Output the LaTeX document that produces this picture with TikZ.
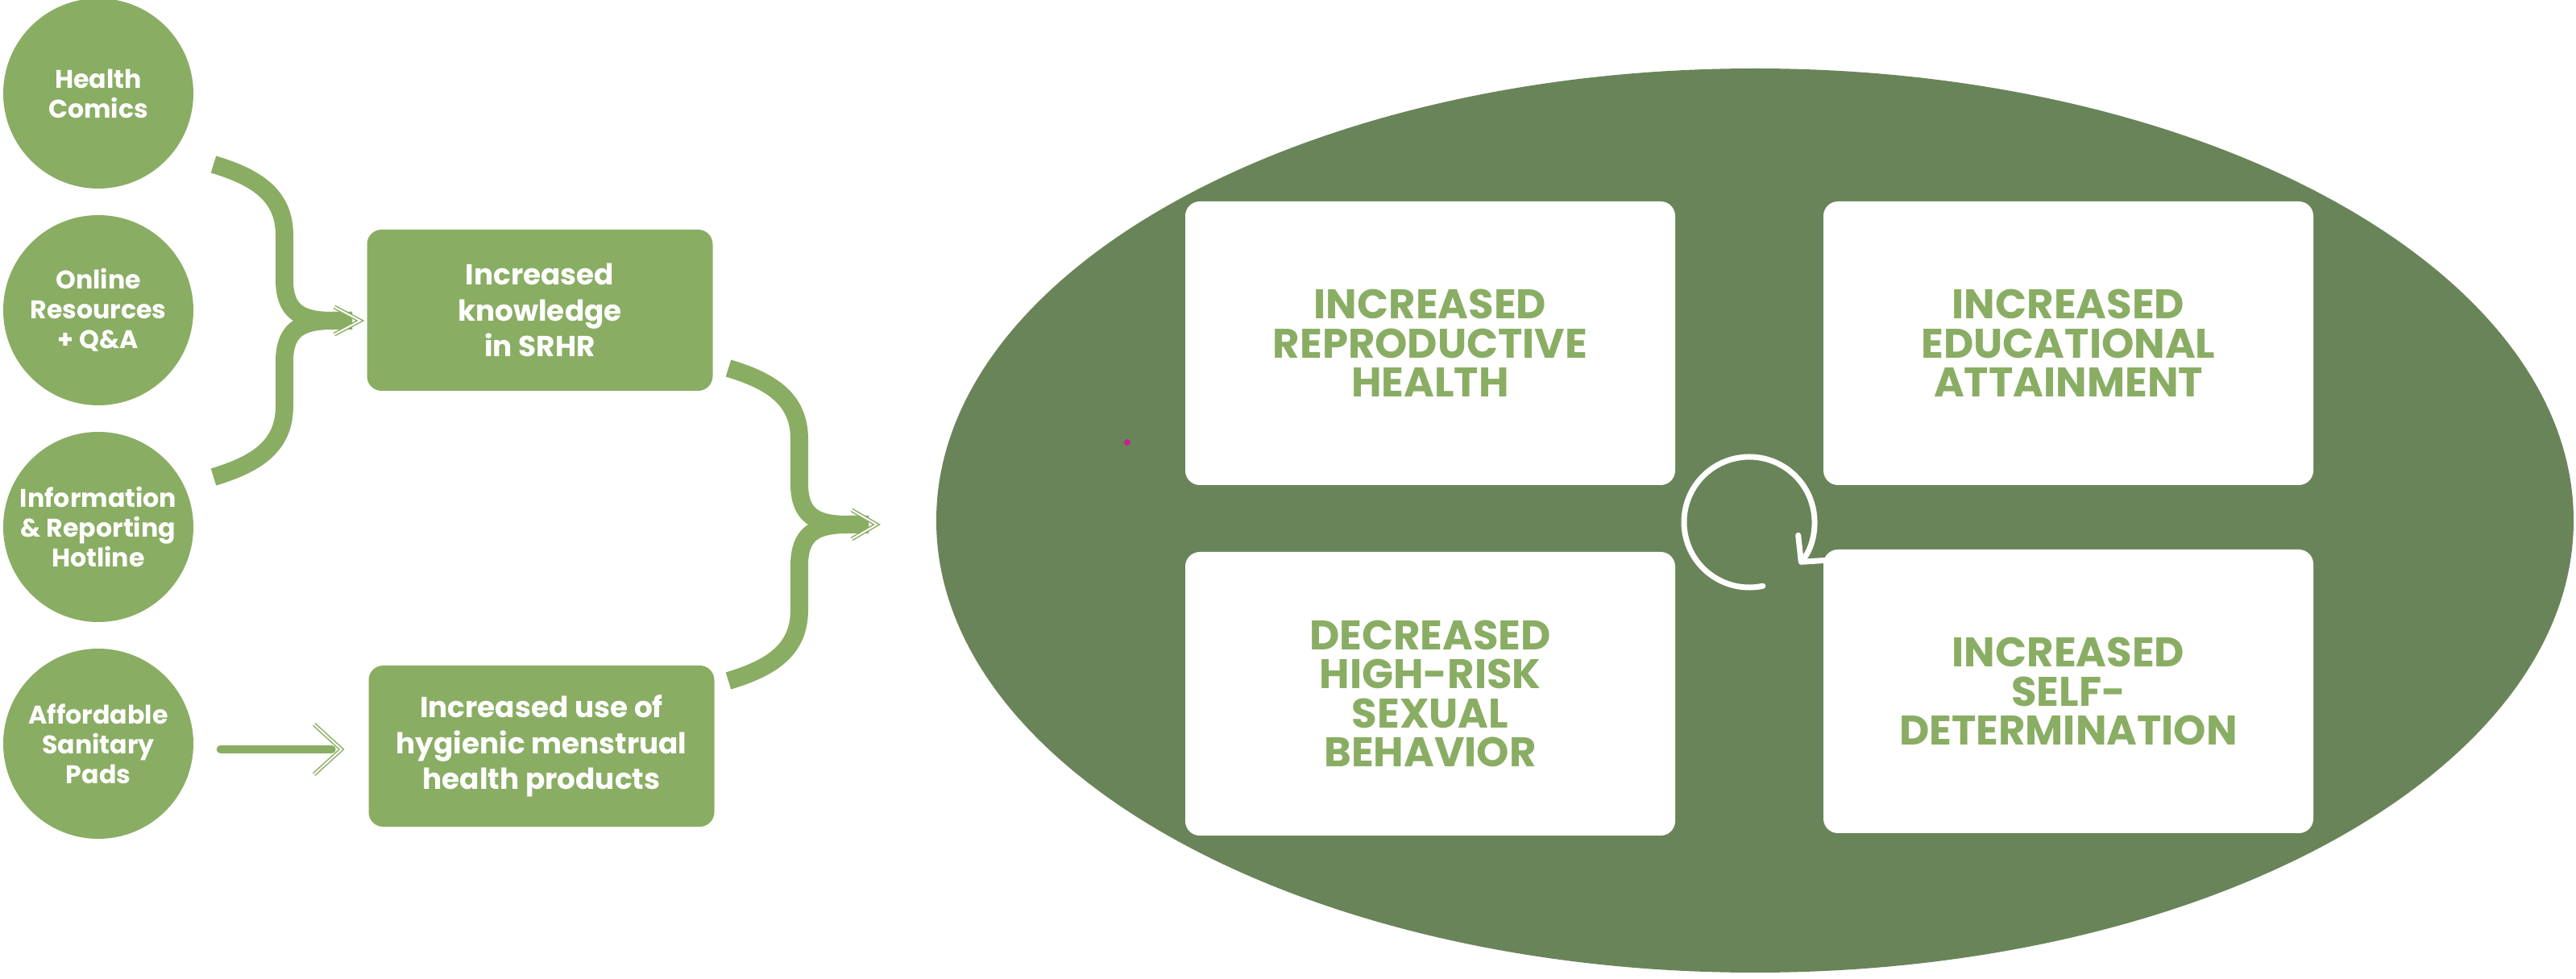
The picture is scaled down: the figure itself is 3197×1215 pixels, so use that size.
\documentclass[tikz,border=0pt]{standalone}
\usepackage{fontspec}
\setmainfont{Poppins}
\usepackage{tikz}
\usetikzlibrary{arrows.meta}

\definecolor{leaf}{HTML}{8AAD64}
\definecolor{moss}{HTML}{6A8459}
\definecolor{dotpink}{HTML}{C8208C}

\begin{document}
\begin{tikzpicture}[x=0.1mm, y=-0.1mm,
    bubble/.style={circle, fill=leaf, minimum size=23.6mm, inner sep=0pt, align=center,
      text=white, font=\fontsize{9pt}{10.5pt}\selectfont\bfseries},
    result/.style={rounded corners=1.8mm, fill=leaf, minimum width=42.9mm, minimum height=20mm,
      inner sep=0pt, align=center, text=white, font=\fontsize{10.2pt}{12.7pt}\selectfont\bfseries},
    outcome/.style={rounded corners=1.8mm, fill=white, minimum width=60.8mm, minimum height=35.2mm,
      inner sep=0pt, align=center, text=leaf, font=\fontsize{14.6pt}{13.8pt}\selectfont\bfseries},
    bracket/.style={draw=leaf, line width=2.2mm},
    shaft/.style={draw=leaf, line width=1mm, line cap=round},
    chevron/.style={draw=leaf, line width=0.15mm, double=white, double distance=0.2mm, line join=miter},
    spin/.style={draw=white, line width=0.7mm, line cap=round,
      -{Straight Barb[round, length=2.3mm, width=4.8mm]}}]

    \useasboundingbox (0,0) rectangle (3197,1215);

    % Inputs
    \node[bubble] (comics) at (122,116) {Health\\Comics};
    \node[bubble] (online) at (122,385) {Online\\Resources\\+ Q\&A};
    \node[bubble] (hotline) at (122,654) {Information\\\& Reporting\\Hotline};
    \node[bubble] (pads) at (122,923) {Affordable\\Sanitary\\Pads};

    % Intermediate results
    \node[result] (know) at (670,385) {Increased\\knowledge\\in SRHR};
    \node[result] (use) at (672,926) {Increased use of\\hygienic menstrual\\health products};

    % Bracket from the first three inputs
    \coordinate (b1a) at (265,204);
    \coordinate (b1b) at (265,592);
    \coordinate (k1) at (447,398);
    \draw[bracket] (b1a) .. controls +(53,16) and +(0,-50) .. ++(88,88) -- ++(0,55)
        .. controls +(0,40) and +(-40,0) .. ++(60,51) -- ([xshift=-1mm]k1);
    \draw[bracket] (b1b) .. controls +(53,-16) and +(0,50) .. ++(88,-88) -- ++(0,-55)
        .. controls +(0,-40) and +(-40,0) .. ++(60,-51) -- ([xshift=-1mm]k1);
    \draw[chevron] ([shift={(-32,-17)}]k1) -- (k1) -- ([shift={(-32,17)}]k1);

    % Pads straight into use
    \coordinate (k3) at ([xshift=-3.3mm, yshift=-0.4mm]use.west);
    \draw[shaft] ([xshift=3.3mm, yshift=-0.7mm]pads.east) -- ([xshift=-1.2mm]k3);
    \draw[chevron] ([shift={(-34,-31)}]k3) -- (k3) -- ([shift={(-34,31)}]k3);

    % Bracket from both results
    \coordinate (b2a) at (904,457);
    \coordinate (b2b) at (904,845);
    \coordinate (k2) at (1088,651);
    \draw[bracket] (b2a) .. controls +(53,16) and +(0,-50) .. ++(88,88) -- ++(0,55)
        .. controls +(0,40) and +(-40,0) .. ++(60,51) -- ([xshift=-1mm]k2);
    \draw[bracket] (b2b) .. controls +(53,-16) and +(0,50) .. ++(88,-88) -- ++(0,-55)
        .. controls +(0,-40) and +(-40,0) .. ++(60,-51) -- ([xshift=-1mm]k2);
    \draw[chevron] ([shift={(-31,-18)}]k2) -- (k2) -- ([shift={(-31,18)}]k2);

    % Outcome oval
    \fill[moss] (2178,646) ellipse [x radius=1016, y radius=561];
    \fill[dotpink] (1399,549) circle [radius=4];

    \node[outcome] (repro) at (1775,426) {INCREASED\\REPRODUCTIVE\\HEALTH};
    \node[outcome] (edu) at (2567,426) {INCREASED\\EDUCATIONAL\\ATTAINMENT};
    \node[outcome] (risk) at (1775,861) {DECREASED\\HIGH-RISK\\SEXUAL\\BEHAVIOR};
    \node[outcome] (self) at (2567,858) {INCREASED\\SELF-\\DETERMINATION};

    % Loop arrow in the middle
    \draw[spin] (2171,648) ++(78:81) arc [start angle=78, end angle=400, radius=81];
\end{tikzpicture}
\end{document}
